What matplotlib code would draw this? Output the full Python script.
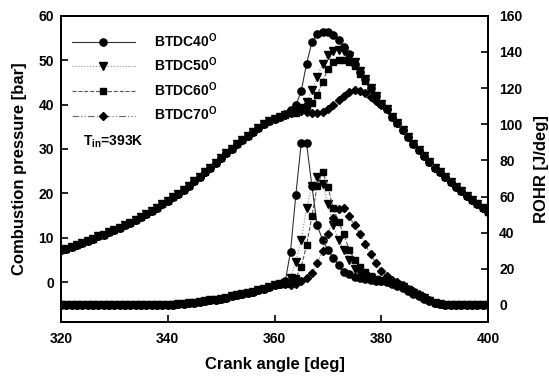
from matplotlib import pyplot as plt
import numpy

plt.rcParams['font.family'] = ['Liberation Sans', 'DejaVu Sans']
plt.rcParams['font.weight'] = 'bold'
plt.rcParams['mathtext.fontset'] = 'custom'
plt.rcParams['mathtext.rm'] = 'Liberation Sans'
plt.rcParams['mathtext.bf'] = 'Liberation Sans:bold'
plt.rcParams['mathtext.it'] = 'Liberation Sans:italic'

# crank angle, one point per degree
angle = numpy.arange(320, 401)

cases = ['BTDC40', 'BTDC50', 'BTDC60', 'BTDC70']

# pressure [bar], shared motoring part 320..361
p_motoring = [7.2, 7.5, 7.9, 8.3, 8.8, 9.3, 9.8, 10.3, 10.7, 11.2,
              11.7, 12.2, 12.8, 13.4, 14.0, 14.6, 15.3, 16.0, 16.7, 17.5,
              18.3, 19.1, 19.9, 20.8, 21.7, 22.7, 23.7, 24.7, 25.8, 26.9,
              28.0, 29.0, 30.0, 31.0, 32.0, 33.0, 33.9, 34.8, 35.6, 36.2,
              36.8, 37.3]
# pressure 362..380 per case
p_btdc40 = [37.9, 38.8, 39.8, 43.0, 49.2, 54.0, 56.0, 56.4, 56.3, 55.6,
            54.5, 53.0, 51.3, 49.2, 47.4, 45.7, 43.8, 42.0, 40.2]
p_btdc50 = [37.7, 38.0, 38.4, 39.3, 40.6, 43.2, 46.2, 49.2, 51.1, 52.1,
            52.3, 52.0, 51.0, 49.5, 47.6, 45.7, 43.8, 42.0, 40.2]
p_btdc60 = [37.7, 38.0, 38.2, 38.8, 39.6, 40.3, 42.1, 45.1, 48.1, 49.6,
            50.0, 50.1, 49.6, 48.8, 47.0, 45.3, 43.6, 42.0, 40.2]
p_btdc70 = [37.7, 38.0, 38.3, 38.5, 38.3, 38.1, 38.0, 38.4, 39.1, 40.0,
            41.0, 42.0, 42.8, 43.2, 43.1, 42.6, 41.8, 40.9, 40.0]
# pressure 381..400, shared expansion part
p_expansion = [38.9, 37.3, 35.8, 34.2, 32.7, 31.2, 29.8, 28.4, 27.0, 25.8,
               24.7, 23.6, 22.6, 21.5, 20.5, 19.5, 18.5, 17.5, 16.6, 15.8]

# ROHR [J/deg], shared part 320..361
r_start = [0.0] * 21 + [0.2, 0.4, 0.6, 0.9, 1.2, 1.6, 2.0, 2.5, 3.0, 3.5,
                        4.1, 4.7, 5.3, 6.0, 6.7, 7.4, 8.1, 9.0, 9.8, 11.0,
                        11.8]
# ROHR 362..391 per case
r_btdc40 = [13, 29.5, 61, 89.5, 89.5, 66, 44, 36, 30.5, 26,
            22, 18.5, 17, 15.7, 15, 14.5, 14, 13.5, 13, 12.5,
            11.5, 10.5, 9.2, 7.8, 6.3, 4.8, 3.4, 2.0, 1.0, 0.3]
r_btdc50 = [12, 15, 24, 36, 53.5, 66, 71, 67, 56, 44,
            36, 30.5, 25, 20, 17.5, 16, 15, 14, 13.5, 13,
            12, 11, 9.8, 8.3, 6.8, 5.2, 3.7, 2.3, 1.1, 0.4]
r_btdc60 = [11.5, 12, 15, 21, 33, 49, 66, 73.8, 65.5, 53.5,
            46, 39, 30.5, 25, 21, 18, 16, 14.5, 13.5, 13,
            12.5, 11.5, 10.3, 8.8, 7.2, 5.6, 4.0, 2.5, 1.2, 0.4]
r_btdc70 = [11.5, 11, 11.5, 13, 15, 17.5, 23, 30, 39, 48,
            53, 53.5, 49, 44, 39.5, 33.5, 28, 23, 19, 16,
            14, 12.5, 11, 9, 7.5, 5.8, 4.2, 2.8, 1.2, 0.4]
# ROHR 392..400
r_end = [0.0] * 9

pressure = {
  'BTDC40': p_motoring + p_btdc40 + p_expansion,
  'BTDC50': p_motoring + p_btdc50 + p_expansion,
  'BTDC60': p_motoring + p_btdc60 + p_expansion,
  'BTDC70': p_motoring + p_btdc70 + p_expansion,
}
rohr = {
  'BTDC40': r_start + r_btdc40 + r_end,
  'BTDC50': r_start + r_btdc50 + r_end,
  'BTDC60': r_start + r_btdc60 + r_end,
  'BTDC70': r_start + r_btdc70 + r_end,
}

styles = {
  'BTDC40': dict(marker='o', ls='-', color='#333333', ms=5.2),
  'BTDC50': dict(marker='v', ls=':', color='#888888', ms=5.6),
  'BTDC60': dict(marker='s', ls='--', color='#555555', ms=4.6),
  'BTDC70': dict(marker='D', ls=(0, (6, 2, 1, 2, 1, 2)), color='#666666', ms=4.3),
}

fig = plt.figure(figsize=(5.49, 3.77), dpi=100)
fig.subplots_adjust(left=0.111, right=0.889, bottom=0.146, top=0.958)
ax = fig.add_subplot(111)
ax2 = ax.twinx()

for c in cases:
  s = styles[c]
  ax.plot(angle, pressure[c], marker=s['marker'], ls=s['ls'], color=s['color'],
          lw=0.8, ms=s['ms'], mfc='black', mec='black',
          label=c + '$^{\\mathrm{O}}$')
  ax2.plot(angle, rohr[c], marker=s['marker'], ls=s['ls'], color=s['color'],
           lw=0.8, ms=s['ms'], mfc='black', mec='black')

ax.set_xlim(320, 400)
ax.set_ylim(-9, 60)
ax2.set_ylim(-9.4, 160)
ax.set_xticks(range(320, 401, 20))
ax.set_yticks(range(0, 61, 10))
ax2.set_yticks(range(0, 161, 20))

for a in (ax, ax2):
  for sp in a.spines.values():
    sp.set_linewidth(1.4)
  a.tick_params(direction='in', length=5, width=1.2, labelsize=10)
ax.tick_params(axis='y', pad=5)
ax.tick_params(axis='x', pad=7)
ax2.tick_params(axis='y', pad=8)

ax.set_xlabel('Crank angle [deg]', fontsize=12, fontweight='bold', labelpad=8)
ax.set_ylabel('Combustion pressure [bar]', fontsize=12, fontweight='bold', labelpad=8)
ax2.set_ylabel('ROHR [J/deg]', fontsize=12, fontweight='bold', labelpad=8)

ax.legend(loc='upper left', bbox_to_anchor=(0.026, 0.95), borderaxespad=0,
          borderpad=0, frameon=False, numpoints=1, handlelength=4.5,
          handletextpad=1.4, labelspacing=0.43, fontsize=10)
ax.text(0.052, 0.59, 'T$_{\\mathbf{in}}$=393K', transform=ax.transAxes,
        fontsize=10, fontweight='bold', va='center', ha='left')

fig.savefig('out.png', dpi=100)
